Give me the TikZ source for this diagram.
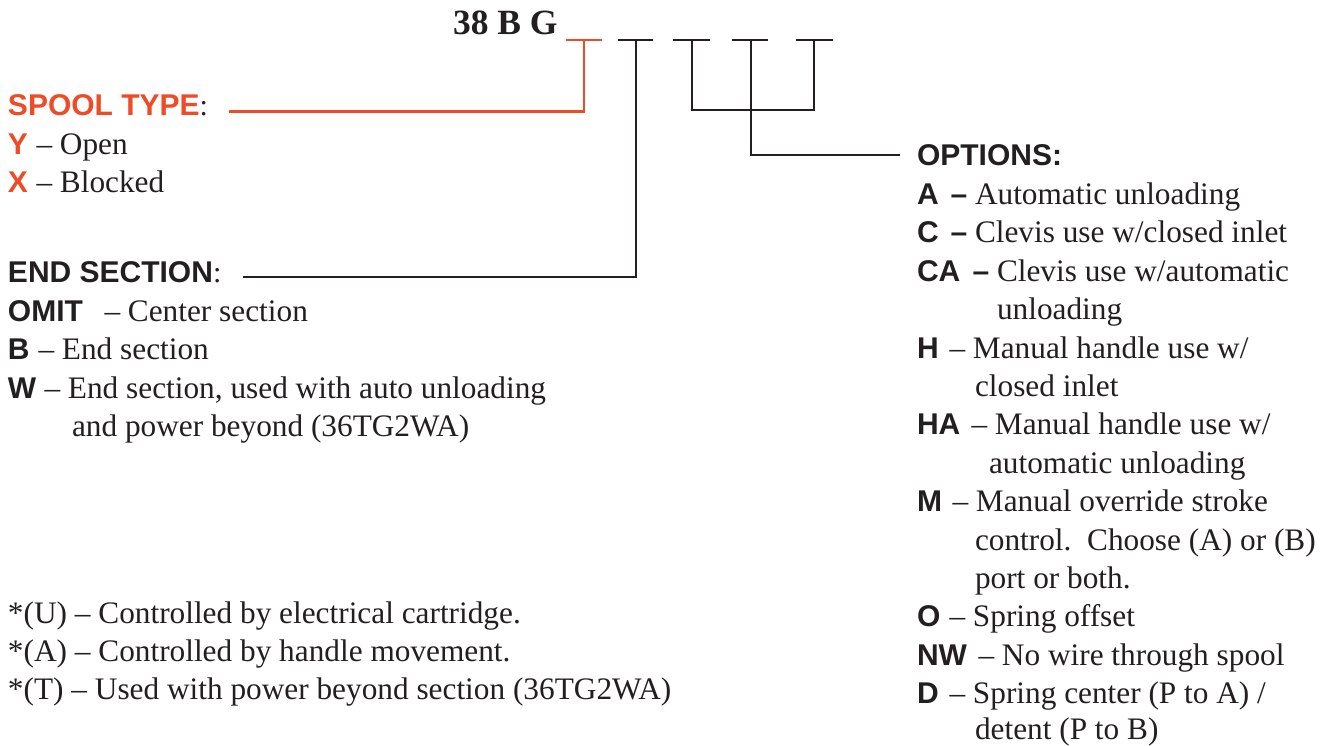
\documentclass[tikz,border=0pt]{standalone}
\usepackage{fontspec}
\setmainfont{Liberation Serif}
\setsansfont{Liberation Sans}
\definecolor{spool}{RGB}{238,75,38}
\definecolor{ink}{RGB}{35,31,32}
\newcommand\kwfont{\fontsize{30}{36}\selectfont\sffamily\bfseries}
\newcommand\kw[1]{{\kwfont #1}}
\newcommand\sd{\llap{–\ }}
\newcommand\bd{\llap{\kw{–}\ }}
\begin{document}
\begin{tikzpicture}[x=1pt,y=-1pt,
  every node/.style={inner sep=0pt, outer sep=0pt, anchor=base west, text=ink,
    font=\fontsize{31.3}{38}\selectfont},
  head/.style={font=\kwfont},
  conn/.style={line width=2.6pt, draw=ink},
  blank/.style={line width=2.8pt, draw=ink}]
\useasboundingbox (0,0) rectangle (1326,746);

% model code
\node[font=\fontsize{35.5}{40}\selectfont\bfseries] (code) at (453,35) {38 B G};

% blanks
\coordinate (s1l) at (566,40); \coordinate (s1r) at (602,40); \coordinate (s1m) at (584,40);
\coordinate (b1l) at (618,40); \coordinate (b1r) at (653,40); \coordinate (b1m) at (636,40);
\coordinate (b2l) at (673,40); \coordinate (b2r) at (710,40); \coordinate (b2m) at (692,40);
\coordinate (b3l) at (732,40); \coordinate (b3r) at (768,40); \coordinate (b3m) at (751,40);
\coordinate (b4l) at (796,40); \coordinate (b4r) at (833,40); \coordinate (b4m) at (814,40);
\draw[blank, draw=spool] (s1l) -- (s1r);
\draw[blank] (b1l) -- (b1r);
\draw[blank] (b2l) -- (b2r);
\draw[blank] (b3l) -- (b3r);
\draw[blank] (b4l) -- (b4r);

% line ends
\coordinate (spoolend) at (229,111.5);
\coordinate (endend) at (243,277);
\coordinate (j2) at (692,110);
\coordinate (j4) at (814,110);
\coordinate (optend) at (900,155);

\draw[conn, draw=spool] (s1m) |- (spoolend);
\draw[conn] (b1m) |- (endend);
\draw[conn] (b2m) -- (j2) -- (j4) -- (b4m);
\draw[conn] (b3m) |- (optend);

% spool type
\node[head, text=spool] (spool) at (8,116) {SPOOL TYPE\textnormal{\textcolor{ink}{:}}};
\node (ky) at (8,155) {\kw{\textcolor{spool}{Y}}};
\node (dy) at (60,155) {\sd Open};
\node (kx) at (8,193) {\kw{\textcolor{spool}{X}}};
\node (dx) at (60,193) {\sd Blocked};

% end section
\node[head] (endsec) at (8,283) {END SECTION\textnormal{:}};
\node (komit) at (8,321.4) {\kw{OMIT}};
\node (domit) at (128,321.4) {\sd Center section};
\node (kb) at (8,359.8) {\kw{B}};
\node (db) at (62,359.8) {\sd End section};
\node (kw) at (8,398.2) {\kw{W}};
\node (dw) at (68,398.2) {\sd End section, used with auto unloading};
\node (dw2) at (72,436.6) {and power beyond (36TG2WA)};

% footnotes
\node (fu) at (8,623) {*(U) – Controlled by electrical cartridge.};
\node (fa) at (8,661.4) {*(A) – Controlled by handle movement.};
\node (ft) at (8,699.8) {*(T) – Used with power beyond section (36TG2WA)};

% options
\node[head] (opt) at (917,166) {OPTIONS:};
\node (ka) at (917,204.4) {\kw{A}};
\node (da) at (975,204.4) {\bd Automatic unloading};
\node (kc) at (917,242.8) {\kw{C}};
\node (dc) at (975,242.8) {\bd Clevis use w/closed inlet};
\node (kca) at (917,281.2) {\kw{CA}};
\node (dca) at (997,281.2) {\bd Clevis use w/automatic};
\node (dca2) at (997,319.6) {unloading};
\node (kh) at (917,358) {\kw{H}};
\node (dh) at (973,358) {\sd Manual handle use w/};
\node (dh2) at (975,396.4) {closed inlet};
\node (kha) at (917,434.8) {\kw{HA}};
\node (dha) at (995,434.8) {\sd Manual handle use w/};
\node (dha2) at (989,473.2) {automatic unloading};
\node (km) at (917,511.6) {\kw{M}};
\node (dm) at (976,511.6) {\sd Manual override stroke};
\node (dm2) at (975,550) {control.\ \ Choose (A) or (B)};
\node (dm3) at (975,588.4) {port or both.};
\node (ko) at (917,626.8) {\kw{O}};
\node (do) at (973,626.8) {\sd Spring offset};
\node (knw) at (917,665.2) {\kw{NW}};
\node (dnw) at (1002,665.2) {\sd No wire through spool};
\node (kd) at (917,703.2) {\kw{D}};
\node (dd) at (973,703.2) {\sd Spring center (P to A) /};
\node (dd2) at (975,739) {detent (P to B)};
\end{tikzpicture}
\end{document}
